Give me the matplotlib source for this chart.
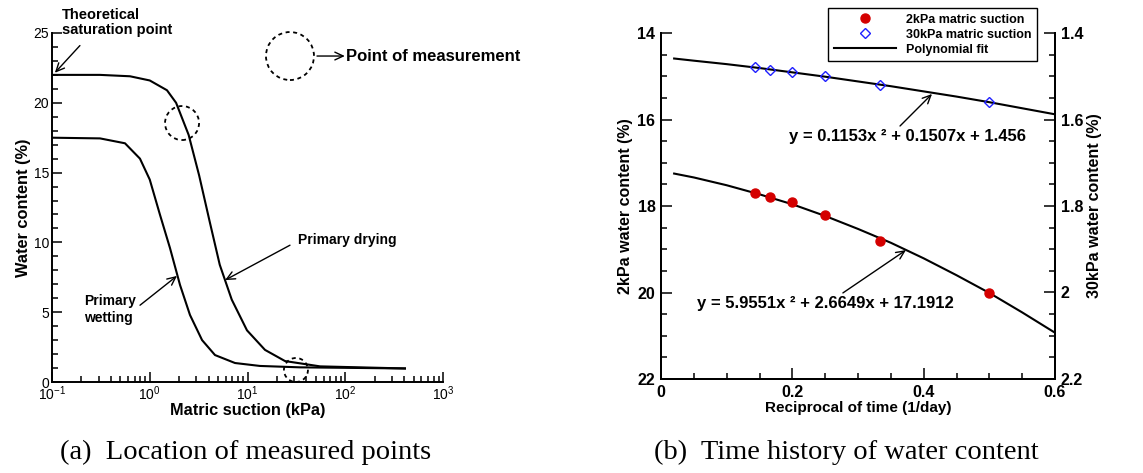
import matplotlib
matplotlib.use('Agg')
import matplotlib.pyplot as plt
from matplotlib.patches import Circle
from matplotlib.transforms import ScaledTranslation
from matplotlib.ticker import MultipleLocator, LogLocator, NullFormatter, FuncFormatter
from matplotlib.lines import Line2D

plt.rcParams['font.family'] = ['Liberation Sans', 'DejaVu Sans']
plt.rcParams['mathtext.fontset'] = 'custom'
plt.rcParams['mathtext.rm'] = 'Liberation Sans'
plt.rcParams['mathtext.bf'] = 'Liberation Sans:bold'

# (a) soil-water characteristic curves
dry_suction = [0.1, 0.31, 0.628, 1.0, 1.5, 1.86, 2.5, 3.2, 4.1, 5.2, 6.9, 9.88, 15.1, 24.2, 55.2, 408]
dry_water = [22.0, 22.0, 21.9, 21.6, 20.9, 20.0, 17.7, 14.8, 11.5, 8.4, 5.9, 3.7, 2.3, 1.5, 1.12, 0.97]
wet_suction = [0.1, 0.31, 0.558, 0.794, 1.0, 1.27, 1.61, 2.04, 2.58, 3.43, 4.65, 7.45, 13.4, 34.4, 408]
wet_water = [17.5, 17.45, 17.1, 16.0, 14.5, 12.0, 9.6, 6.95, 4.8, 3.0, 1.93, 1.36, 1.15, 1.05, 0.97]
meas_suction = [2.14, 31.3]
meas_water = [18.55, 0.86]

# (b) time history
recip_time = [1 / 7, 1 / 6, 1 / 5, 1 / 4, 1 / 3, 1 / 2]
wc_2kpa = [17.7, 17.8, 17.9, 18.2, 18.8, 20.0]
wc_30kpa = [1.479, 1.485, 1.490, 1.500, 1.520, 1.560]
fit_x = [0.02, 0.05, 0.1, 0.15, 0.2, 0.25, 0.3, 0.35, 0.4, 0.45, 0.5, 0.55, 0.6]
fit_2kpa = [17.25, 17.34, 17.52, 17.73, 17.96, 18.23, 18.53, 18.85, 19.21, 19.60, 20.01, 20.46, 20.93]
fit_30kpa = [1.459, 1.464, 1.472, 1.481, 1.491, 1.501, 1.512, 1.523, 1.535, 1.547, 1.560, 1.574, 1.588]

W, H = 1143, 473
fig = plt.figure(figsize=(W / 100, H / 100), dpi=100)

arrow = dict(arrowstyle='->,head_length=0.6,head_width=0.28', lw=1.0, color='black',
             shrinkA=0, shrinkB=0)


def dashed_circle(ax, x, y, r_px):
    tr = fig.dpi_scale_trans + ScaledTranslation(x, y, ax.transData)
    c = Circle((0, 0), r_px / 100, transform=tr, fill=False, ec='black',
               lw=1.3, ls=(0, (2.2, 2.0)), clip_on=False)
    fig.add_artist(c)


# ---------- (a) ----------
ax = fig.add_axes([52 / W, 1 - 382 / H, 391 / W, 349 / H])
ax.plot(dry_suction, dry_water, color='black', lw=1.5)
ax.plot(wet_suction, wet_water, color='black', lw=1.5)
ax.set_xscale('log')
ax.set_xlim(0.1, 1000)
ax.set_ylim(0, 25)
for s in ['top', 'right']:
    ax.spines[s].set_visible(False)
for s in ['left', 'bottom']:
    ax.spines[s].set_linewidth(1.4)
ax.xaxis.set_major_locator(LogLocator(base=10, numticks=10))
ax.xaxis.set_minor_locator(LogLocator(base=10, subs=range(2, 10), numticks=20))
ax.xaxis.set_minor_formatter(NullFormatter())
ax.yaxis.set_major_locator(MultipleLocator(5))
ax.yaxis.set_minor_locator(MultipleLocator(1))
ax.tick_params(which='both', direction='in', labelsize=10, width=1.1, pad=2)
ax.tick_params(which='major', length=7)
ax.tick_params(which='minor', length=4)
ax.set_xlabel('Matric suction (kPa)', fontsize=11.8, fontweight='bold', labelpad=0)
ax.set_ylabel('Water content (%)', fontsize=11.8, fontweight='bold', labelpad=2)

for x, y, r in zip(meas_suction, meas_water, [17, 12]):
    dashed_circle(ax, x, y, r)
dashed_circle(ax, 27.2, 23.35, 24)
ax.annotate('', xy=(99, 23.35), xytext=(51.4, 23.35), arrowprops=arrow, annotation_clip=False)
ax.text(102, 23.35, 'Point of measurement', fontsize=12, fontweight='bold', va='center', ha='left')

ax.text(0.1265, 25.75, 'Theoretical\nsaturation point', fontsize=10.5, fontweight='bold',
        va='center', ha='left', linespacing=1.15)
ax.annotate('', xy=(0.107, 22.15), xytext=(0.193, 24.1), arrowprops=arrow, annotation_clip=False)

ax.text(32.9, 10.2, 'Primary drying', fontsize=10, fontweight='bold', va='center', ha='left')
ax.annotate('', xy=(5.9, 7.3), xytext=(27.2, 9.8), arrowprops=arrow)

ax.text(0.212, 5.2, 'Primary\nwetting', fontsize=10, fontweight='bold', va='center', ha='left',
        linespacing=1.2)
ax.annotate('', xy=(1.9, 7.6), xytext=(0.795, 5.5), arrowprops=arrow)

# ---------- (b) ----------
bx = fig.add_axes([661 / W, 1 - 379 / H, 394 / W, 346 / H])
bx2 = bx.twinx()
bx.plot(fit_x, fit_2kpa, color='black', lw=1.5)
bx.plot(recip_time, wc_2kpa, 'o', color='#d40000', ms=6.5, mec='#d40000')
bx2.plot(fit_x, fit_30kpa, color='black', lw=1.5)
bx2.plot(recip_time, wc_30kpa, 'D', mfc='none', mec='#1f1fff', ms=5.5, mew=1.0)
bx.set_xlim(0, 0.6)
bx.set_ylim(22, 14)
bx2.set_ylim(2.2, 1.4)
for a in (bx, bx2):
    a.spines['top'].set_visible(False)
    for s in ['left', 'right', 'bottom']:
        a.spines[s].set_linewidth(1.4)
bx.xaxis.set_major_locator(MultipleLocator(0.2))
bx.xaxis.set_minor_locator(MultipleLocator(0.05))
bx.yaxis.set_major_locator(MultipleLocator(2))
bx.yaxis.set_minor_locator(MultipleLocator(0.5))
bx2.yaxis.set_major_locator(MultipleLocator(0.2))
bx2.yaxis.set_minor_locator(MultipleLocator(0.05))
bx.xaxis.set_major_formatter(FuncFormatter(lambda v, p: f'{v:g}'))
bx2.yaxis.set_major_formatter(FuncFormatter(lambda v, p: f'{v:g}'))
for a in (bx, bx2):
    a.tick_params(which='both', direction='in', labelsize=11.5, width=1.1, pad=4)
    a.tick_params(which='major', length=8)
    a.tick_params(which='minor', length=4.5)
    for lab in a.get_xticklabels() + a.get_yticklabels():
        lab.set_fontweight('bold')
bx.tick_params(axis='y', which='both', right=False)
bx.set_xlabel('Reciprocal of time (1/day)', fontsize=11, fontweight='bold', labelpad=1)
bx.set_ylabel('2kPa water content (%)', fontsize=11.5, fontweight='bold', labelpad=3)
bx2.set_ylabel('30kPa water content (%)', fontsize=11.5, fontweight='bold', labelpad=3)

bx.text(0.195, 16.4, 'y = 0.1153x \u00b2 + 0.1507x + 1.456', fontsize=12, fontweight='bold',
        va='center', ha='left')
bx.annotate('', xy=(0.4127, 15.41), xytext=(0.364, 16.15), arrowprops=arrow)
bx.text(0.055, 20.25, 'y = 5.9551x \u00b2 + 2.6649x + 17.1912', fontsize=12, fontweight='bold',
        va='center', ha='left')
bx.annotate('', xy=(0.373, 19.02), xytext=(0.277, 20.01), arrowprops=arrow)

handles = [
    Line2D([], [], ls='none', marker='o', color='#d40000', ms=6.5),
    Line2D([], [], ls='none', marker='D', mfc='none', mec='#1f1fff', ms=5.5, mew=1.0),
    Line2D([], [], color='black', lw=1.5),
]
labels = ['2kPa matric suction', '30kPa matric suction', 'Polynomial fit']
leg = fig.legend(handles, labels, loc='upper left', bbox_to_anchor=(828 / W, 1 - 8 / H),
                 fancybox=False, edgecolor='black', framealpha=1, handlelength=5.0,
                 handletextpad=0.8, labelspacing=0.25, borderpad=0.45, borderaxespad=0,
                 prop=dict(weight='bold', size=9))
leg.get_frame().set_linewidth(1.0)

# captions
fig.text(246 / W, 1 - 452 / H, '(a)  Location of measured points', family='Liberation Serif',
         fontsize=20.5, ha='center', va='center')
fig.text(846 / W, 1 - 452 / H, '(b)  Time history of water content', family='Liberation Serif',
         fontsize=20.5, ha='center', va='center')

fig.savefig('out.png', dpi=100)
